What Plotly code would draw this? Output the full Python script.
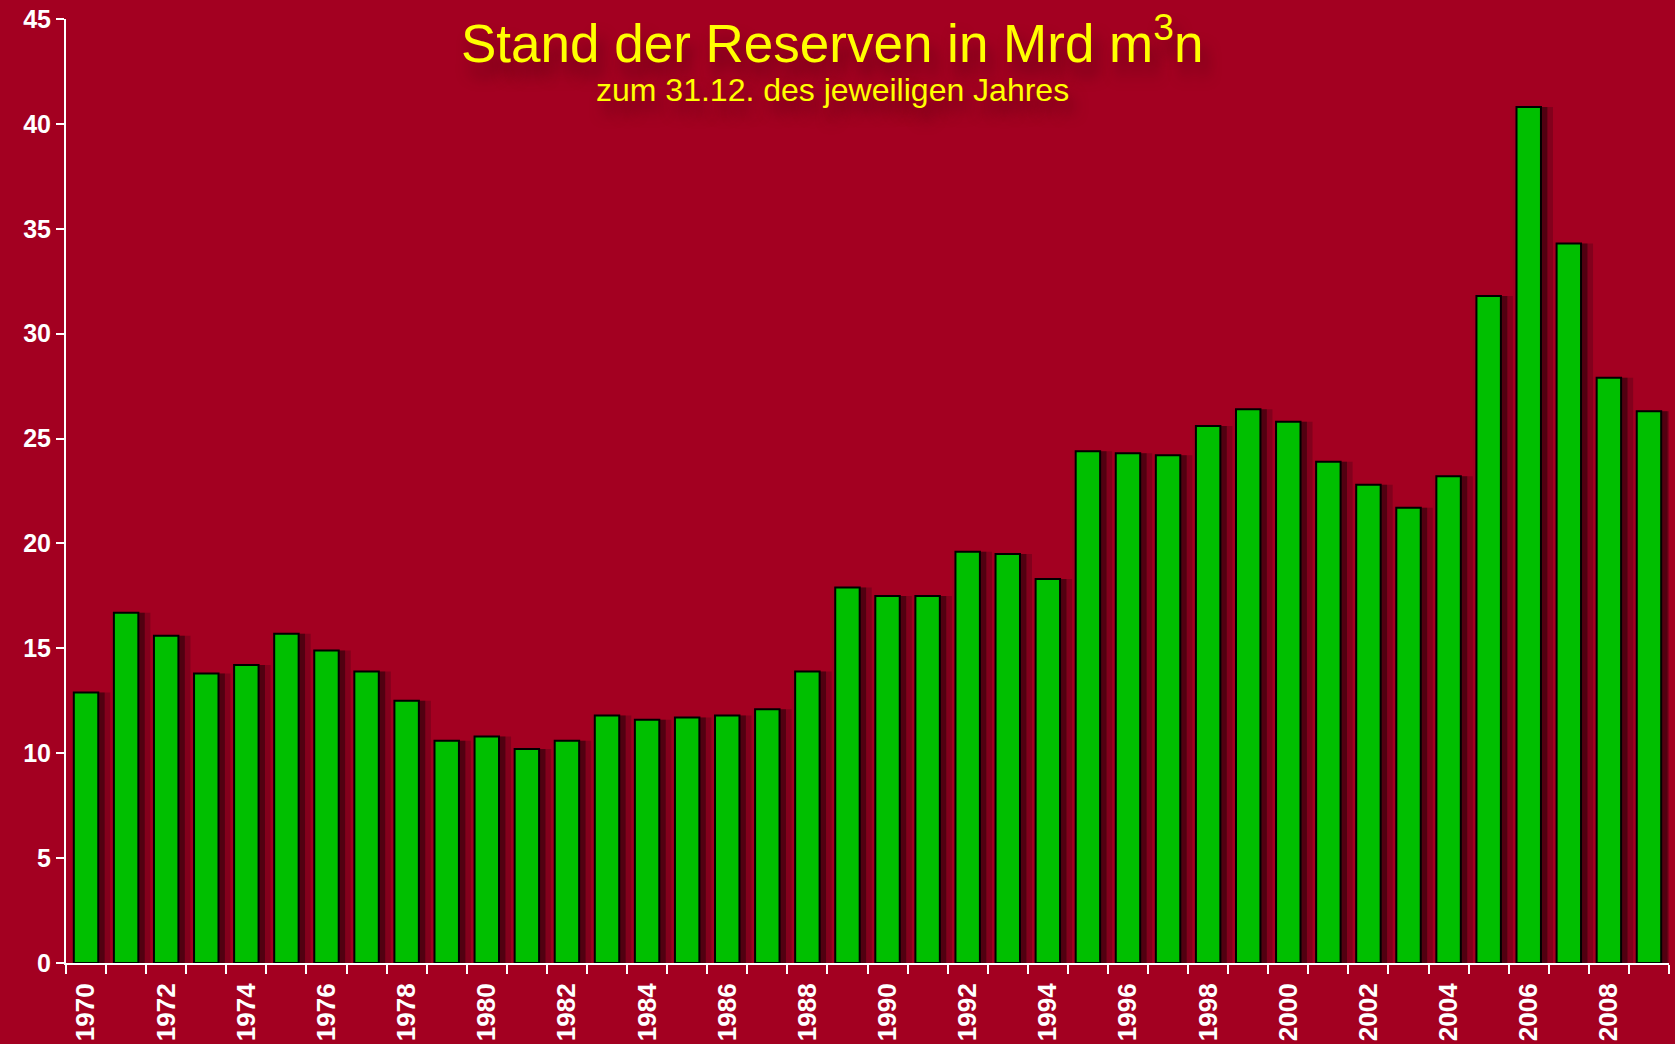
import plotly.graph_objects as go

# Reserves at year end (billion m3n)
years = list(range(1970, 2010))
reserves = [12.9, 16.7, 15.6, 13.8, 14.2, 15.7, 14.9, 13.9, 12.5, 10.6,
            10.8, 10.2, 10.6, 11.8, 11.6, 11.7, 11.8, 12.1, 13.9, 17.9,
            17.5, 17.5, 19.6, 19.5, 18.3, 24.4, 24.3, 24.2, 25.6, 26.4,
            25.8, 23.9, 22.8, 21.7, 23.2, 31.8, 40.8, 34.3, 27.9, 26.3]
label_years = years[::2]
boundaries = [y - 0.5 for y in years] + [years[-1] + 0.5]

bg = "#A30021"
white = "white"
bar_w = 0.61
fam = "Liberation Sans, Arial, sans-serif"

fig = go.Figure()

# soft shadow to the right of each bar
fig.add_trace(go.Bar(x=years, y=reserves, width=bar_w + 0.24, offset=-bar_w / 2 + 0.06,
                     marker=dict(color="rgba(60,0,15,0.3)", line=dict(width=0)),
                     hoverinfo="skip", showlegend=False))
fig.add_trace(go.Bar(x=years, y=reserves, width=bar_w + 0.12, offset=-bar_w / 2 + 0.04,
                     marker=dict(color="rgba(40,0,10,0.55)", line=dict(width=0)),
                     hoverinfo="skip", showlegend=False))

fig.add_trace(go.Bar(x=years, y=reserves, width=bar_w, offset=-bar_w / 2,
                     marker=dict(color="#00BF00", line=dict(color="black", width=2)),
                     showlegend=False))

fig.update_layout(
    width=1675, height=1044,
    paper_bgcolor=bg, plot_bgcolor=bg,
    margin=dict(l=66, r=6, t=19, b=81),
    barmode="overlay",
    font=dict(family=fam, color=white),
    annotations=[
        dict(text="Stand der Reserven in Mrd m<sup>3</sup>n", x=0.478, y=0.978,
             xref="paper", yref="paper", xanchor="center", yanchor="middle", showarrow=False,
             font=dict(size=53, color="#FFFF00", shadow="6px 14px 14px rgba(70,0,15,0.55)")),
        dict(text="zum 31.12. des jeweiligen Jahres", x=0.478, y=0.925,
             xref="paper", yref="paper", xanchor="center", yanchor="middle", showarrow=False,
             font=dict(size=32, color="#FFFF00", shadow="6px 12px 14px rgba(70,0,15,0.55)")),
    ],
)

fig.update_xaxes(
    range=[boundaries[0], boundaries[-1]], automargin=False,
    tickvals=label_years, ticktext=[str(y) for y in label_years],
    tickangle=-90, ticks="", ticklen=0, ticklabelstandoff=8,
    tickfont=dict(size=26, color=white, family=fam, weight="bold"),
    showline=True, linecolor=white, linewidth=2,
    showgrid=False, zeroline=False,
    minor=dict(tickvals=boundaries, ticks="outside", ticklen=9, tickcolor=white, tickwidth=2),
)
fig.update_yaxes(
    range=[0, 45], dtick=5, automargin=False,
    ticks="outside", ticklen=8, tickcolor=white, tickwidth=2,
    tickfont=dict(size=25, color=white, family=fam, weight="bold"),
    showline=True, linecolor=white, linewidth=2,
    showgrid=False, zeroline=False,
)

# drop the page's default body margin so the figure fills the window
fig.write_html("out.html", config={"displayModeBar": False},
               post_script="document.body.style.margin='0';"
                           "document.body.style.background='#A30021';")
